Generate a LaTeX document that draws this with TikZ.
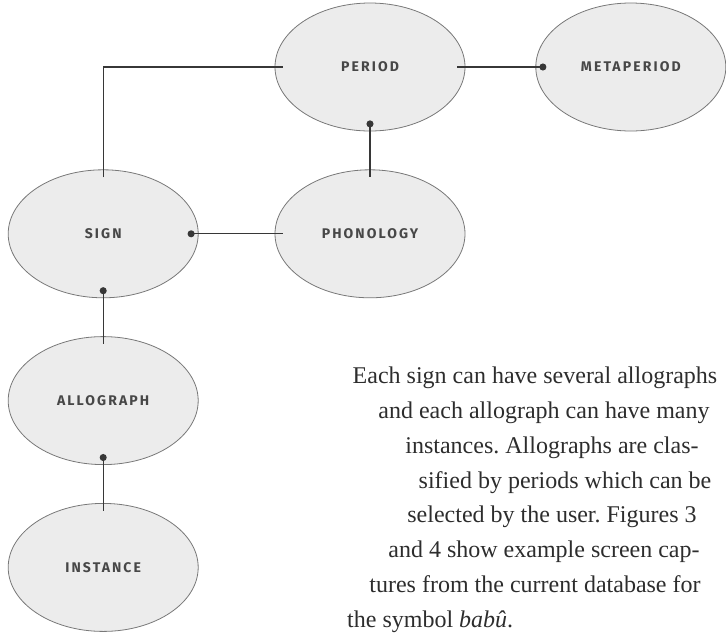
\documentclass[tikz,border=0pt]{standalone}
\usepackage{fontspec}
\setmainfont{Liberation Serif}
\newfontfamily\entfont[LetterSpace=15]{Fira Sans}
\usepackage{tikz}
\usetikzlibrary{arrows.meta, positioning, shapes.geometric}

\definecolor{entfill}{RGB}{236,236,236}
\definecolor{entline}{RGB}{120,120,120}
\definecolor{linkgray}{RGB}{55,55,55}
\definecolor{textgray}{RGB}{45,45,45}

\begin{document}
\frenchspacing
\begin{tikzpicture}[
        x=1pt, y=-1pt,
        node distance=38pt and 72pt,
        ent/.style={draw=entline, ellipse, fill=entfill, line width=0.8pt,
            minimum width=190pt, minimum height=128pt, inner sep=0pt,
            font=\entfont\bfseries\fontsize{14}{16}\selectfont, text=black!72},
        link/.style={draw=linkgray, line width=1.1pt,
            shorten <=-8pt, shorten >=-8pt},
        dotlink/.style={link, {Circle[length=7pt]}-, shorten <=-11pt},
        para/.style={anchor=base, inner sep=0pt, text=textgray,
            font=\fontsize{24}{30}\selectfont},
    ]
        \useasboundingbox (0,0) rectangle (726,638);

        % top row
        \node[ent] (period) at (370,67) {PERIOD};
        \node[ent, right=70pt of period] (metaperiod) {METAPERIOD};

        % middle row
        \node[ent, below=of period] (phonology) {PHONOLOGY};
        \node[ent, left=76pt of phonology] (sign) {SIGN};

        % left column
        \node[ent, below=of sign] (allograph) {ALLOGRAPH};
        \node[ent, below=of allograph] (instance) {INSTANCE};

        % connectors
        \draw[link] (sign) |- (period);
        \draw[dotlink] (metaperiod) -- (period);
        \draw[dotlink] (period) -- (phonology);
        \draw[dotlink] (sign) -- (phonology);
        \draw[dotlink] (sign) -- (allograph);
        \draw[dotlink] (allograph) -- (instance);

        % text beside the diagram
        \node[para] (txt1) at (535,383) {Each sign can have several allographs};
        \node[para] (txt2) at (544,418) {and each allograph can have many};
        \node[para] (txt3) at (552,453) {instances. Allographs are clas-};
        \node[para] (txt4) at (565,488) {sified by periods which can be};
        \node[para] (txt5) at (552,522) {selected by the user. Figures 3};
        \node[para] (txt6) at (544,557) {and 4 show example screen cap-};
        \node[para] (txt7) at (535,592) {tures from the current database for};
        \node[para, anchor=base west] (txt8) at (347,627) {the symbol \textit{babû}.};
    \end{tikzpicture}
\end{document}
